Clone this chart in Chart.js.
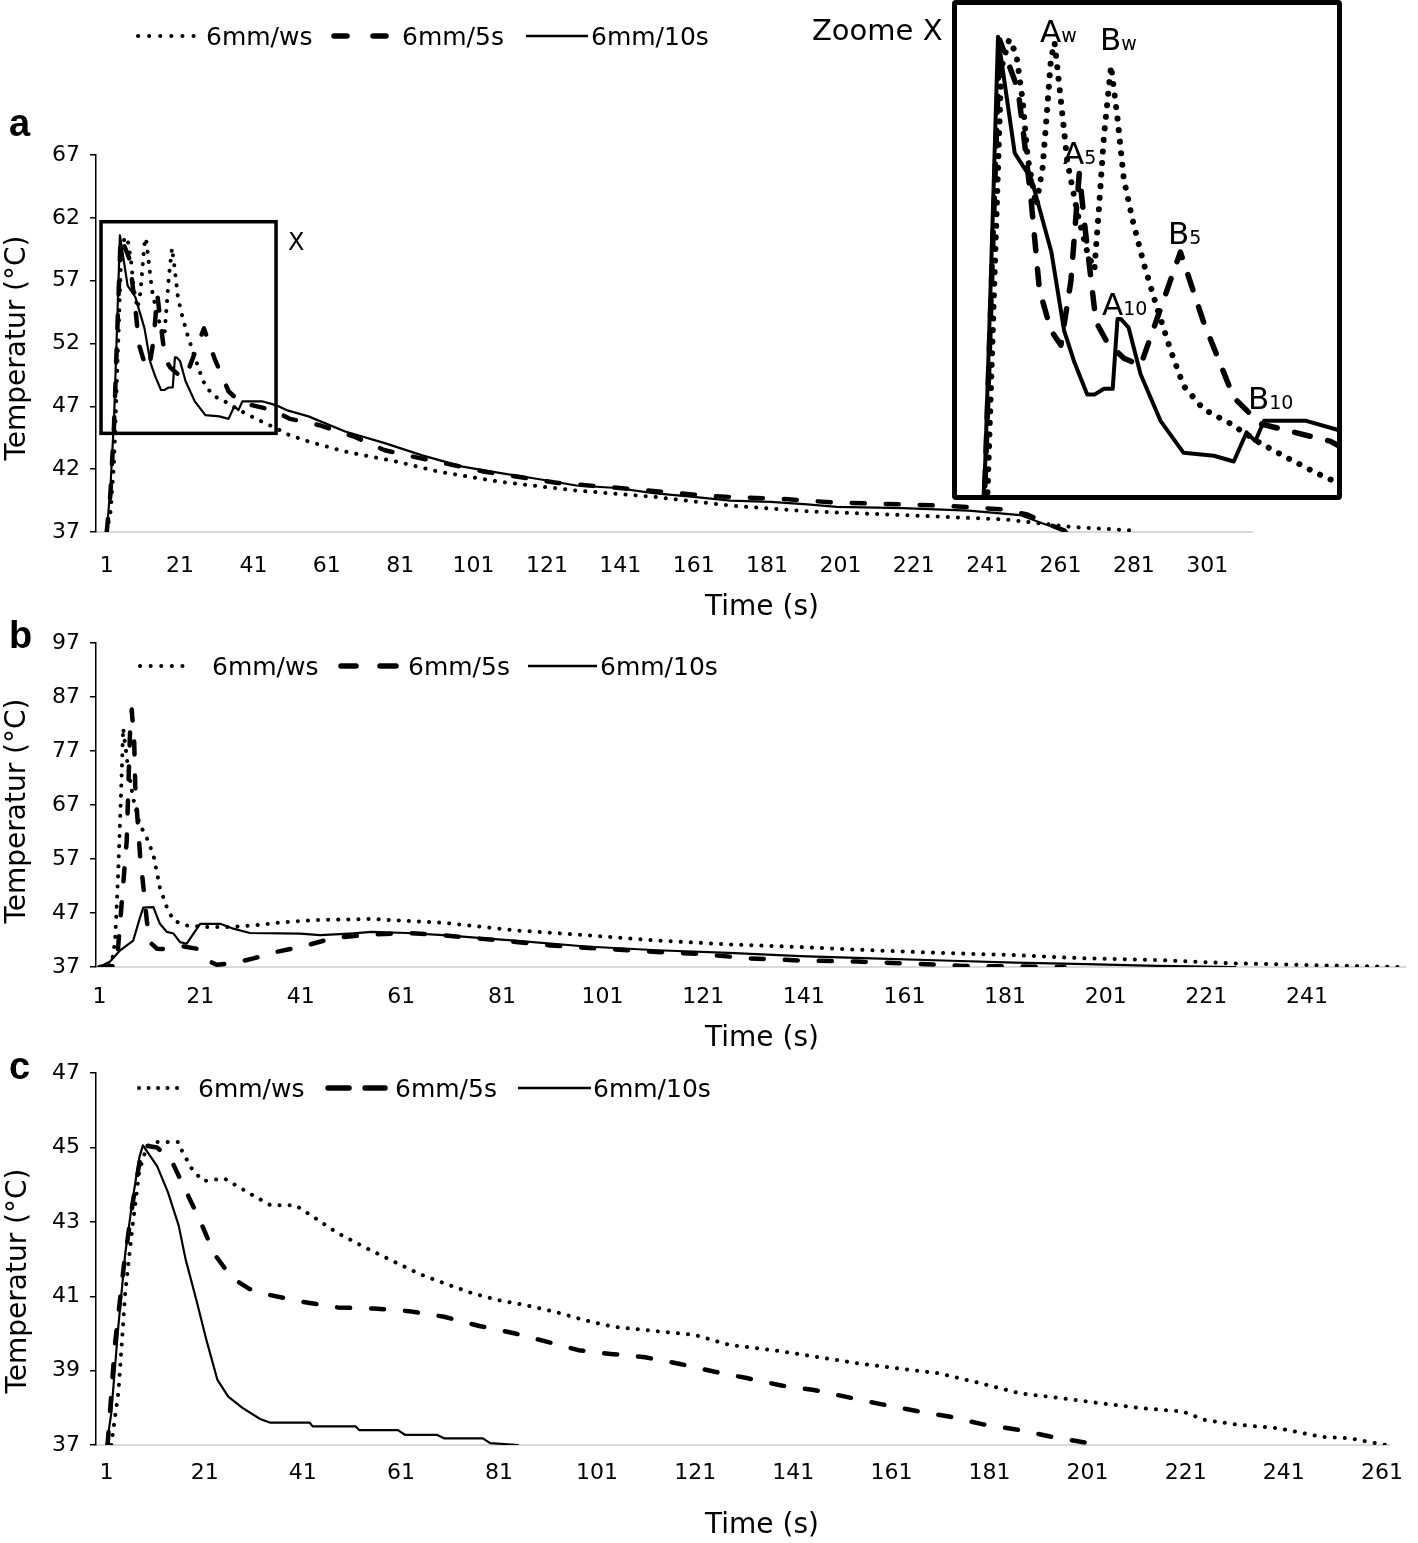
<!DOCTYPE html>
<html><head><meta charset="utf-8">
<script src="https://cdn.jsdelivr.net/npm/chart.js@4.4.1/dist/chart.umd.min.js"></script>
<style>
html,body{margin:0;padding:0;background:#fff;}
body{width:1418px;height:1543px;position:relative;overflow:hidden;font-family:"DejaVu Sans",Verdana,sans-serif;color:#000;}
canvas{position:absolute;}
.t{position:absolute;white-space:nowrap;line-height:1;}
.leg{font-size:25px;}
.ytitle{font-size:28px;transform:translate(-50%,-50%) rotate(-90deg);}
.xtitle{font-size:28px;transform:translate(-50%,-50%);}
.plab{font-family:"Liberation Sans",Arial,sans-serif;font-weight:bold;font-size:38px;}
.ins{font-size:31px;}
.ins span{font-size:19px;}
</style></head>
<body>
<canvas id="cA" style="left:0;top:0" width="1418" height="620"></canvas>
<canvas id="cB" style="left:0;top:620px" width="1418" height="430"></canvas>
<canvas id="cC" style="left:0;top:1050px" width="1418" height="493"></canvas>
<div style="position:absolute;left:952px;top:0;width:380px;height:490px;border:5px solid #000;border-radius:4px;background:#fff;">
  <canvas id="cInset" style="left:0;top:0" width="380" height="490"></canvas>
</div>

<svg style="position:absolute;left:0;top:0;pointer-events:none" width="1418" height="1543">
  <g stroke="#000" fill="none">
    <line x1="138" y1="36" x2="194" y2="36" stroke-width="4" stroke-linecap="round" stroke-dasharray="0.1 11"/>
    <line x1="334" y1="36" x2="347" y2="36" stroke-width="5.5" stroke-linecap="round"/>
    <line x1="373" y1="36" x2="386" y2="36" stroke-width="5.5" stroke-linecap="round"/>
    <line x1="526" y1="36" x2="588" y2="36" stroke-width="2.5"/>

    <line x1="140" y1="666" x2="193" y2="666" stroke-width="4" stroke-linecap="round" stroke-dasharray="0.1 10.5"/>
    <line x1="341" y1="666" x2="356" y2="666" stroke-width="5.5" stroke-linecap="round"/>
    <line x1="380" y1="666" x2="396" y2="666" stroke-width="5.5" stroke-linecap="round"/>
    <line x1="528" y1="666" x2="597" y2="666" stroke-width="2.5"/>

    <line x1="139" y1="1088" x2="186" y2="1088" stroke-width="4" stroke-linecap="round" stroke-dasharray="0.1 9.4"/>
    <line x1="328" y1="1088" x2="349" y2="1088" stroke-width="5.5" stroke-linecap="round"/>
    <line x1="365" y1="1088" x2="385" y2="1088" stroke-width="5.5" stroke-linecap="round"/>
    <line x1="518" y1="1088" x2="591" y2="1088" stroke-width="2.5"/>
  </g>
</svg>

<div class="t leg" style="left:206px;top:23.5px">6mm/ws</div>
<div class="t leg" style="left:402px;top:23.5px">6mm/5s</div>
<div class="t leg" style="left:591px;top:23.5px">6mm/10s</div>
<div class="t leg" style="left:212px;top:653.5px">6mm/ws</div>
<div class="t leg" style="left:408px;top:653.5px">6mm/5s</div>
<div class="t leg" style="left:600px;top:653.5px">6mm/10s</div>
<div class="t leg" style="left:198px;top:1075.5px">6mm/ws</div>
<div class="t leg" style="left:395px;top:1075.5px">6mm/5s</div>
<div class="t leg" style="left:593px;top:1075.5px">6mm/10s</div>

<div class="t plab" style="left:9px;top:104px">a</div>
<div class="t plab" style="left:9px;top:616px">b</div>
<div class="t plab" style="left:9px;top:1047px">c</div>

<div class="t ytitle" style="left:16px;top:348px">Temperatur (°C)</div>
<div class="t ytitle" style="left:16px;top:811px">Temperatur (°C)</div>
<div class="t ytitle" style="left:17px;top:1281px">Temperatur (°C)</div>
<div class="t xtitle" style="left:762px;top:606px">Time (s)</div>
<div class="t xtitle" style="left:762px;top:1037px">Time (s)</div>
<div class="t xtitle" style="left:762px;top:1524px">Time (s)</div>

<div class="t" style="left:812px;top:16px;font-size:29px">Zoome X</div>
<div class="t" style="left:288px;top:230px;font-size:24px">X</div>
<div class="t ins" style="left:1040px;top:16px">A<span>w</span></div>
<div class="t ins" style="left:1100px;top:24px">B<span>w</span></div>
<div class="t ins" style="left:1063px;top:138px">A<span>5</span></div>
<div class="t ins" style="left:1168px;top:218px">B<span>5</span></div>
<div class="t ins" style="left:1102px;top:289px">A<span>10</span></div>
<div class="t ins" style="left:1248px;top:383px">B<span>10</span></div>

<script>
// ---------- DATA ----------
const seriesNames = ['6mm/ws', '6mm/5s', '6mm/10s'];

// Panel a
const aWsTime = [1, 2, 3, 4, 5, 6, 6.9, 7.7, 8.3, 9.4, 10.2, 10.6, 11.25, 11.7, 12.5, 13.3, 14.6, 15.8, 16.7, 17.3, 17.9, 18.8, 19.6, 20.4, 21.5, 22.9, 24.6, 26.3, 27.9, 30.4, 33.8, 37.1, 40.4, 44.6, 47, 50, 56, 66, 80, 91.5, 108, 129, 150, 171, 192, 218, 246, 255, 264, 282];
const aWsTemp = [37, 38.5, 42.5, 51, 59.5, 60.5, 60.0, 58.4, 56.5, 54.8, 56.1, 57.5, 59.85, 60.4, 58.4, 56.3, 54.5, 53.2, 52.6, 54.8, 57.2, 59.6, 57.8, 55.7, 54.3, 52.8, 51.25, 49.8, 48.6, 47.8, 47.3, 46.7, 46.2, 45.6, 45.3, 44.8, 44.2, 43.4, 42.6, 41.8, 41.0, 40.3, 39.8, 39.1, 38.65, 38.35, 38.0, 37.7, 37.4, 37.1];
const a5sTime = [1, 2, 3, 4, 4.8, 7.1, 7.7, 8.75, 9.8, 11.25, 12.5, 13.75, 14.8, 15.6, 16.9, 18.3, 20.4, 22.5, 27.5, 30.4, 34.2, 37.5, 40.4, 46.3, 51, 59, 68.4, 76.8, 86, 104, 124, 145, 166, 187, 199, 229, 245, 252, 257, 263];
const a5sTemp = [37, 40, 45.5, 54, 60.5, 58.8, 57.5, 55.0, 51.9, 50.5, 50.0, 52.2, 55.9, 53.85, 50.8, 50.1, 49.55, 49.3, 53.2, 50.8, 48.2, 47.3, 47.1, 46.7, 46.0, 45.5, 44.6, 43.5, 42.9, 41.8, 40.9, 40.4, 39.85, 39.6, 39.35, 39.1, 38.8, 38.4, 37.7, 37.0];
const a10sTime = [1, 2, 3, 4, 4.6, 6.7, 8.8, 10.0, 11.3, 12.9, 14.2, 15.8, 16.7, 17.9, 19.0, 19.6, 20.0, 21.0, 22.5, 25.0, 27.9, 31.7, 34.2, 35.8, 36.9, 38.0, 43.3, 47.1, 50, 56, 66, 77, 87, 98, 108, 119, 129, 140, 150, 161, 171, 182, 192, 200, 218, 236, 250, 256, 263];
const a10sTemp = [37, 40.5, 46, 55, 60.6, 56.6, 55.7, 54.5, 53.2, 50.5, 49.4, 48.3, 48.3, 48.5, 48.5, 50.9, 50.9, 50.6, 49.0, 47.4, 46.3, 46.2, 46.0, 47.0, 46.7, 47.4, 47.4, 47.1, 46.7, 46.2, 45.0, 44.05, 43.1, 42.2, 41.7, 41.2, 40.7, 40.5, 40.1, 39.8, 39.5, 39.4, 39.2, 39.0, 38.9, 38.7, 38.35, 37.7, 37.0];
const aXTicks = [1, 21, 41, 61, 81, 101, 121, 141, 161, 181, 201, 221, 241, 261, 281, 301];
const aYTicks = [37, 42, 47, 52, 57, 62, 67];
// zoom window "X" (time range, temperature range)
const zoomTime = [-0.55, 47.16];
const zoomTemp = [44.85, 61.69];

// Panel b
const bWsTime = [1, 3.4, 4.1, 4.7, 5.4, 5.7, 6.7, 7.7, 9, 10.4, 11.7, 13, 14.4, 15.7, 18.3, 22.3, 26.3, 31.6, 37.5, 44, 55, 69.3, 83.5, 97.7, 111.9, 126.1, 140.3, 154.5, 168.7, 182.9, 197.1, 211.3, 225.5, 239.7, 260];
const bWsTemp = [37, 37.4, 41.9, 54.2, 72.5, 81.3, 73.7, 68.2, 63.4, 60.9, 57.8, 51.7, 48.0, 45.6, 44.7, 44.4, 44.4, 44.7, 45.3, 45.7, 45.9, 45.2, 43.8, 42.9, 41.9, 41.2, 40.7, 40.1, 39.6, 39.2, 38.6, 38.3, 37.7, 37.4, 37.0];
const b5sTime = [1, 4.4, 6.4, 7.1, 7.4, 7.9, 8.1, 8.5, 9.05, 9.6, 10.4, 11.0, 12.4, 14.4, 17.7, 20.3, 22.3, 24.3, 27.6, 31.6, 36.2, 42.2, 47.5, 55.1, 62.1, 69.3, 80.6, 90.6, 100.5, 111.8, 120.4, 130.3, 140.3, 151.6, 164.4, 172.9, 192.8];
const b5sTemp = [37, 37.2, 60.3, 81.6, 84.7, 78.6, 70.6, 65.1, 57.8, 52.9, 45.6, 41.6, 40.4, 40.3, 40.8, 40.4, 38.3, 37.4, 37.7, 38.6, 39.8, 41.0, 42.4, 43.0, 43.3, 42.9, 41.9, 41.0, 40.4, 39.8, 39.4, 38.6, 38.2, 38.0, 37.55, 37.2, 37.0];
const b10sTime = [1, 3.1, 5.1, 7.7, 9.05, 9.7, 11.7, 13.0, 14.4, 15.7, 17.0, 18.3, 21.0, 25.0, 27.6, 30.9, 40.9, 44.8, 50.8, 55.1, 62.1, 69.3, 76.4, 83.5, 97.7, 111.8, 126.1, 140.3, 154.5, 168.7, 182.9, 197.1, 211.3, 226.9];
const b10sTemp = [37, 38.0, 40.1, 41.9, 46.2, 48.0, 48.1, 45.0, 43.5, 43.2, 41.6, 41.3, 45.0, 45.0, 44.1, 43.3, 43.2, 42.9, 43.2, 43.5, 43.3, 42.9, 42.4, 41.9, 40.8, 40.1, 39.6, 39.0, 38.6, 38.2, 37.8, 37.55, 37.2, 37.0];
const bXTicks = [1, 21, 41, 61, 81, 101, 121, 141, 161, 181, 201, 221, 241];
const bYTicks = [37, 47, 57, 67, 77, 87, 97];

// Panel c
const cWsTime = [1.95, 3.4, 4.8, 6.3, 7.7, 9.2, 10.6, 15.7, 16.4, 18.5, 20.7, 25, 30.1, 34.4, 39.5, 43.1, 48.1, 53.9, 59, 64.8, 69.8, 75.6, 80.7, 86.5, 92.5, 98.4, 104.3, 113.8, 120.9, 128, 137.5, 145.8, 154, 162.3, 170.6, 178.9, 187.2, 195.5, 203.8, 212, 220.4, 225, 232, 240, 248.7, 254.6, 258, 261.8];
const cWsTemp = [37, 38.4, 41.1, 42.9, 44.4, 45.02, 45.15, 45.15, 44.9, 44.4, 44.1, 44.17, 43.77, 43.45, 43.45, 43.14, 42.7, 42.3, 41.97, 41.6, 41.35, 41.08, 40.9, 40.76, 40.58, 40.36, 40.18, 40.05, 39.96, 39.69, 39.54, 39.37, 39.2, 39.06, 38.93, 38.67, 38.39, 38.26, 38.12, 37.99, 37.9, 37.67, 37.54, 37.45, 37.22, 37.18, 37.09, 37.0];
const c5sTime = [1.2, 1.7, 2.7, 4.5, 6.3, 8.1, 8.6, 11.3, 14.2, 17.1, 20, 22.9, 26.5, 30.1, 34.4, 40.9, 48.1, 55.4, 62.6, 69.8, 77, 84.3, 90.1, 97.2, 103.7, 110.8, 117.9, 125, 131.5, 138.6, 145.2, 152.3, 158.8, 165.9, 173, 179.5, 187.2, 193.7, 200.8];
const c5sTemp = [37, 37.9, 39.7, 41.8, 43.5, 44.9, 45.06, 45.0, 44.66, 43.85, 43.05, 42.15, 41.5, 41.2, 41.03, 40.85, 40.7, 40.67, 40.6, 40.45, 40.2, 40.0, 39.8, 39.55, 39.45, 39.36, 39.18, 38.97, 38.8, 38.6, 38.48, 38.28, 38.1, 37.92, 37.76, 37.56, 37.4, 37.22, 37.06];
const c10sTime = [1, 1.95, 3.4, 4.8, 6.3, 7.7, 8.4, 11.3, 13.5, 15.7, 17.1, 19.3, 21.4, 23.6, 25.8, 28.7, 32.3, 34.4, 42.4, 43, 51.8, 52.5, 60.4, 61.9, 68.4, 69.8, 77.7, 79.2, 85];
const c10sTemp = [37, 37.85, 40.2, 42.15, 43.6, 44.75, 45.06, 44.5, 43.8, 42.9, 42.0, 40.9, 39.8, 38.75, 38.3, 38.0, 37.7, 37.6, 37.6, 37.5, 37.5, 37.4, 37.4, 37.27, 37.27, 37.18, 37.18, 37.05, 37.0];
const cXTicks = [1, 21, 41, 61, 81, 101, 121, 141, 161, 181, 201, 221, 241, 261];
const cYTicks = [37, 39, 41, 43, 45, 47];

// ---------- STYLE ----------
const FONT = "'DejaVu Sans', Verdana, sans-serif";
const mainStyle = {
  ws:  {borderWidth: 4,   borderDash: [0.1, 10],  borderCapStyle: 'round'},
  s5:  {borderWidth: 4.5, borderDash: [13, 21],   borderCapStyle: 'round'},
  s10: {borderWidth: 2.2, borderDash: [],         borderCapStyle: 'butt'}
};
const insetStyle = {
  ws:  {borderWidth: 6,   borderDash: [0.1, 11.5], borderCapStyle: 'round'},
  s5:  {borderWidth: 5.5, borderDash: [16, 18],    borderCapStyle: 'round'},
  s10: {borderWidth: 4,   borderDash: [],          borderCapStyle: 'butt'}
};

function pts(ts, vs) { return ts.map((t, i) => ({x: t, y: vs[i]})); }
function ds(label, ts, vs, st) {
  return Object.assign({label, data: pts(ts, vs), borderColor: '#000', backgroundColor: '#000',
    pointRadius: 0, fill: false, tension: 0, borderJoinStyle: 'round'}, st);
}
function threeSets(st, wsT, wsV, t5, v5, t10, v10) {
  return [ds(seriesNames[2], t10, v10, st.s10), ds(seriesNames[1], t5, v5, st.s5), ds(seriesNames[0], wsT, wsV, st.ws)];
}

function panel(id, cfg) {
  return new Chart(document.getElementById(id), {
    type: 'line',
    data: {datasets: cfg.datasets},
    options: {
      responsive: false, animation: false, devicePixelRatio: 1, events: [],
      layout: {padding: {left: 0, right: cfg.padRight, top: cfg.padTop, bottom: 0}},
      plugins: {legend: {display: false}, tooltip: {enabled: false}},
      scales: {
        x: {type: 'linear', min: cfg.xMin, max: cfg.xMax, bounds: 'data',
          afterBuildTicks: s => { s.ticks = cfg.xTicks.map(v => ({value: v})); },
          afterFit: s => { s.height = cfg.xH; },
          grid: {display: false, drawTicks: false},
          border: {display: true, color: '#d9d9d9', width: 2},
          ticks: {autoSkip: false, maxRotation: 0, minRotation: 0, padding: cfg.xPad, color: '#000',
                  font: {family: FONT, size: 22}, callback: v => String(v)}
        },
        y: {type: 'linear', min: cfg.yMin, max: cfg.yMax, bounds: 'data',
          afterBuildTicks: s => { s.ticks = cfg.yTicks.map(v => ({value: v})); },
          afterFit: s => { s.width = 96; },
          grid: {display: true, drawOnChartArea: false, drawTicks: true, tickLength: 6, color: '#000', tickColor: '#000', lineWidth: 1.5},
          border: {display: true, color: '#000', width: 1.5},
          ticks: {padding: 10, color: '#000', font: {family: FONT, size: 22}, callback: v => String(v)}
        }
      }
    },
    plugins: cfg.plugins || []
  });
}

const boxXPlugin = {
  id: 'boxX',
  afterDatasetsDraw(chart) {
    const {ctx, scales: {x, y}} = chart;
    const l = x.getPixelForValue(zoomTime[0]), r = x.getPixelForValue(zoomTime[1]);
    const t = y.getPixelForValue(zoomTemp[1]), b = y.getPixelForValue(zoomTemp[0]);
    ctx.save(); ctx.lineWidth = 3.5; ctx.strokeStyle = '#000'; ctx.setLineDash([]);
    ctx.strokeRect(l, t, r - l, b - t); ctx.restore();
  }
};

panel('cA', {
  datasets: threeSets(mainStyle, aWsTime, aWsTemp, a5sTime, a5sTemp, a10sTime, a10sTemp),
  xMin: -1.92, xMax: 313.2, yMin: 37, yMax: 67, xTicks: aXTicks, yTicks: aYTicks,
  padTop: 155, padRight: 166, xH: 88, xPad: 21, plugins: [boxXPlugin]
});
panel('cB', {
  datasets: threeSets(mainStyle, bWsTime, bWsTemp, b5sTime, b5sTemp, b10sTime, b10sTemp),
  xMin: 0.3, xMax: 260.5, yMin: 37, yMax: 97, xTicks: bXTicks, yTicks: bYTicks,
  padTop: 20, padRight: 13, xH: 83, xPad: 17
});
panel('cC', {
  datasets: threeSets(mainStyle, cWsTime, cWsTemp, c5sTime, c5sTemp, c10sTime, c10sTemp),
  xMin: -1.16, xMax: 262.6, yMin: 37, yMax: 47, xTicks: cXTicks, yTicks: cYTicks,
  padTop: 23, padRight: 13, xH: 98, xPad: 15
});

// Inset "Zoome X": same panel-a data seen through the zoom window
new Chart(document.getElementById('cInset'), {
  type: 'line',
  data: {datasets: threeSets(insetStyle, aWsTime, aWsTemp, a5sTime, a5sTemp, a10sTime, a10sTemp)},
  options: {
    responsive: false, animation: false, devicePixelRatio: 1, events: [],
    layout: {padding: 0},
    plugins: {legend: {display: false}, tooltip: {enabled: false}},
    scales: {
      x: {type: 'linear', display: false, min: zoomTime[0], max: zoomTime[1], bounds: 'data'},
      y: {type: 'linear', display: false, min: zoomTemp[0], max: zoomTemp[1], bounds: 'data'}
    }
  }
});
</script>
</body></html>
